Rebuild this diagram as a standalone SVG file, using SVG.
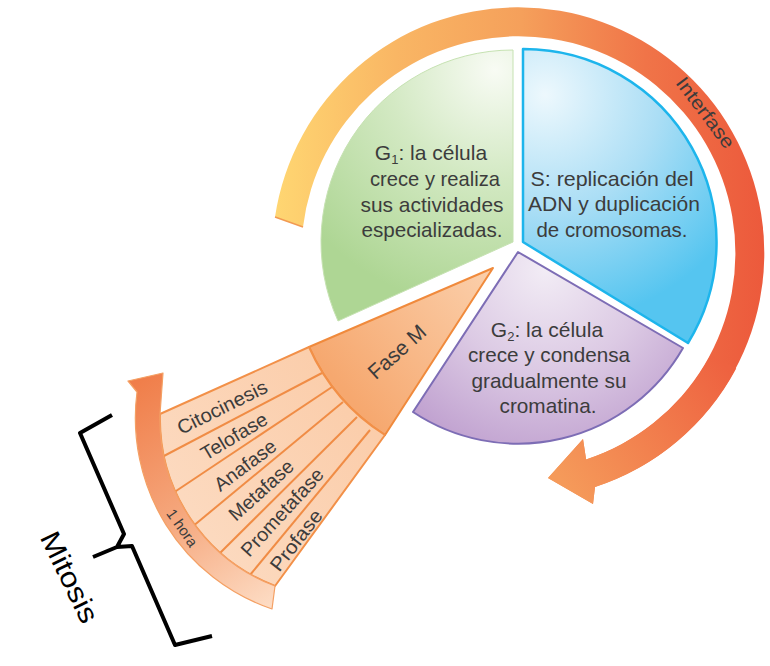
<svg xmlns="http://www.w3.org/2000/svg" width="770" height="666" viewBox="0 0 770 666">
<defs>
<style>
.t{font-family:"Liberation Sans",Arial,sans-serif;fill:#3C3C3C;}
.main{font-size:21px;}
.ph{font-size:19.5px;}
.sep{stroke:#F08C45;stroke-width:2;fill:none;}
</style>
<linearGradient id="gInter" gradientUnits="userSpaceOnUse" x1="272" y1="0" x2="770" y2="0">
<stop offset="0" stop-color="#FFD772"/>
<stop offset="0.25" stop-color="#F9B664"/>
<stop offset="0.5" stop-color="#F5A05B"/>
<stop offset="0.75" stop-color="#F07448"/>
<stop offset="1" stop-color="#EC583B"/>
</linearGradient>
<linearGradient id="gTail" gradientUnits="userSpaceOnUse" x1="723" y1="362" x2="560" y2="478">
<stop offset="0" stop-color="#EE6240"/>
<stop offset="1" stop-color="#F59A5A"/>
</linearGradient>
<radialGradient id="gG1" gradientUnits="userSpaceOnUse" cx="495" cy="70" r="240">
<stop offset="0" stop-color="#F8FBF4"/>
<stop offset="0.45" stop-color="#D3E9C3"/>
<stop offset="1" stop-color="#AED694"/>
</radialGradient>
<radialGradient id="gS" gradientUnits="userSpaceOnUse" cx="545" cy="95" r="230">
<stop offset="0" stop-color="#EDF8FD"/>
<stop offset="0.5" stop-color="#ABDEF5"/>
<stop offset="1" stop-color="#55C5F0"/>
</radialGradient>
<radialGradient id="gG2" gradientUnits="userSpaceOnUse" cx="545" cy="270" r="200">
<stop offset="0" stop-color="#F2ECF5"/>
<stop offset="0.5" stop-color="#DCCAE4"/>
<stop offset="1" stop-color="#BE9ECE"/>
</radialGradient>
<linearGradient id="gFM" gradientUnits="userSpaceOnUse" x1="493" y1="268" x2="345" y2="392">
<stop offset="0" stop-color="#FBD0AC"/>
<stop offset="1" stop-color="#F6A86F"/>
</linearGradient>
<linearGradient id="gSub" gradientUnits="userSpaceOnUse" x1="360" y1="400" x2="180" y2="520">
<stop offset="0" stop-color="#FBCDAA"/>
<stop offset="1" stop-color="#FCDAC0"/>
</linearGradient>
<linearGradient id="gHora" gradientUnits="userSpaceOnUse" x1="140" y1="380" x2="280" y2="600">
<stop offset="0" stop-color="#F07E4A"/>
<stop offset="0.5" stop-color="#F5A57A"/>
<stop offset="1" stop-color="#FDDCC4"/>
</linearGradient>
</defs>
<rect width="770" height="666" fill="#FFFFFF"/>

<g id="interfase-arrow">
<path d="M275,217 A246,246 0 1 1 595,487 L593,504 L548,478 L583,439 L586.1,459.4 A217,217 0 1 0 303,227 Z" fill="url(#gInter)"/>
<path d="M736.2,368.5 A246,246 0 0 1 595,487 L593,504 L548,478 L583,439 L586.1,459.4 A217,217 0 0 0 710.6,354.9 Z" fill="url(#gTail)"/>
<path d="M275,217 L303,227" stroke="#F29A52" stroke-width="1.5"/>
<text class="t" font-size="19" text-anchor="middle" transform="translate(705,113) rotate(53)" y="6" textLength="84" lengthAdjust="spacingAndGlyphs">Interfase</text>
</g>

<g id="g1">
<path d="M513,242 L513,50 A192,192 0 0 0 338,321 Z" fill="url(#gG1)" stroke="#C6E2B2" stroke-width="1"/>
<text class="t main" text-anchor="middle" x="431" y="160">G<tspan font-size="13" dy="4">1</tspan><tspan dy="-4">: la célula</tspan></text>
<text class="t main" text-anchor="middle" x="435" y="186" textLength="130" lengthAdjust="spacingAndGlyphs">crece y realiza</text>
<text class="t main" text-anchor="middle" x="432" y="212" textLength="143" lengthAdjust="spacingAndGlyphs">sus actividades</text>
<text class="t main" text-anchor="middle" x="432" y="237" textLength="141" lengthAdjust="spacingAndGlyphs">especializadas.</text>
</g>

<g id="s">
<path d="M523,242 L523,49 A193,193 0 0 1 688,343 Z" fill="url(#gS)" stroke="#1DB5EC" stroke-width="2.5" stroke-linejoin="round"/>
<text class="t main" text-anchor="middle" x="612" y="186" textLength="163" lengthAdjust="spacingAndGlyphs">S: replicación del</text>
<text class="t main" text-anchor="middle" x="614" y="211" textLength="172" lengthAdjust="spacingAndGlyphs">ADN y duplicación</text>
<text class="t main" text-anchor="middle" x="612" y="237" textLength="151" lengthAdjust="spacingAndGlyphs">de cromosomas.</text>
</g>

<g id="g2">
<path d="M518,252 L683,348 A190,190 0 0 1 413,412 Z" fill="url(#gG2)" stroke="#7D6DB5" stroke-width="2" stroke-linejoin="round"/>
<text class="t main" text-anchor="middle" x="547" y="337">G<tspan font-size="13" dy="4">2</tspan><tspan dy="-4">: la célula</tspan></text>
<text class="t main" text-anchor="middle" x="549" y="362" textLength="162" lengthAdjust="spacingAndGlyphs">crece y condensa</text>
<text class="t main" text-anchor="middle" x="549" y="388" textLength="155" lengthAdjust="spacingAndGlyphs">gradualmente su</text>
<text class="t main" text-anchor="middle" x="548" y="413" textLength="97" lengthAdjust="spacingAndGlyphs">cromatina.</text>
</g>

<g id="fase-m">
<path d="M493,268 L309,347 A200,200 0 0 0 385,435 Z" fill="url(#gFM)" stroke="#F08A3C" stroke-width="2" stroke-linejoin="round"/>
<text class="t" font-size="21" text-anchor="middle" transform="translate(397,352) rotate(-42)" y="7">Fase M</text>
</g>

<g id="subfases">
<path d="M309,347 L160,414 A179,179 0 0 0 275,586 L385,435 A200,200 0 0 1 309,347 Z" fill="url(#gSub)" stroke="#F29048" stroke-width="2" stroke-linejoin="round"/>
</g>

<g id="connectors">
<line class="sep" x1="162" y1="457" x2="322" y2="373"/>
<line class="sep" x1="173" y1="493" x2="332" y2="387"/>
<line class="sep" x1="192" y1="527" x2="343" y2="402"/>
<line class="sep" x1="218" y1="555" x2="357" y2="417"/>
<line class="sep" x1="250" y1="575" x2="370" y2="430"/>
</g>

<g id="labels-subfases">
<text class="t ph" text-anchor="middle" transform="translate(222,407) rotate(-26.3)" y="7" textLength="98" lengthAdjust="spacingAndGlyphs">Citocinesis</text>
<text class="t ph" text-anchor="middle" transform="translate(234,436) rotate(-30.8)" y="7" textLength="74" lengthAdjust="spacingAndGlyphs">Telofase</text>
<text class="t ph" text-anchor="middle" transform="translate(245,465) rotate(-36.7)" y="7" textLength="72" lengthAdjust="spacingAndGlyphs">Anafase</text>
<text class="t ph" text-anchor="middle" transform="translate(261,490) rotate(-42.2)" y="7" textLength="80" lengthAdjust="spacingAndGlyphs">Metafase</text>
<text class="t ph" text-anchor="middle" transform="translate(282,512) rotate(-47.5)" y="7" textLength="112" lengthAdjust="spacingAndGlyphs">Prometafase</text>
<text class="t ph" text-anchor="middle" transform="translate(296,540) rotate(-52)" y="7" textLength="72" lengthAdjust="spacingAndGlyphs">Profase</text>
</g>

<g id="una-hora">
<path d="M163,373 L160,414 A179,179 0 0 0 275,586 L272,609 A202,202 0 0 1 137,392 L128,381 Z" fill="url(#gHora)" stroke="#F4A064" stroke-width="1.2" stroke-linejoin="round"/>
<text class="t" font-size="15" text-anchor="middle" transform="translate(182,528) rotate(55)" y="5">1 hora</text>
</g>

<g id="mitosis">
<path d="M112,415 L80,433 L124,534 L117,547 L93,557 M117,547 L132,546 L175,645 L212,636" fill="none" stroke="#000000" stroke-width="4" stroke-linejoin="round"/>
<text font-family="Liberation Sans, Arial, sans-serif" font-size="28" fill="#000000" text-anchor="middle" transform="translate(70,577) rotate(64)" y="10" textLength="98" lengthAdjust="spacingAndGlyphs">Mitosis</text>
</g>
</svg>
